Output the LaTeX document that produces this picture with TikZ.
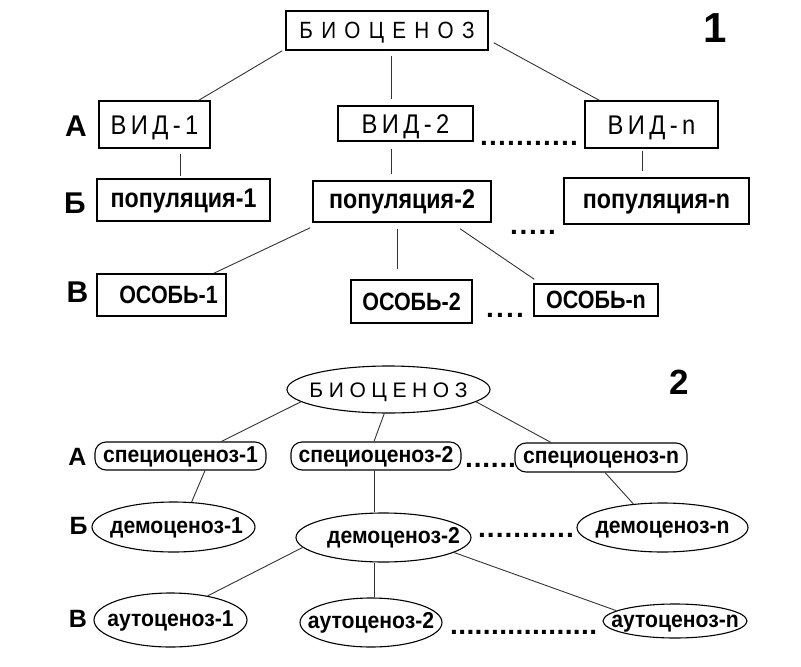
\documentclass[tikz,border=0pt]{standalone}
\usepackage{fontspec}
\setmainfont{Liberation Sans}
\newfontfamily\narrowfont{Liberation Sans}[FakeStretch=0.88]
\newfontfamily\nbold{Liberation Sans Bold}[FakeStretch=0.86]
\newfontfamily\mbold{Liberation Sans Bold}[FakeStretch=0.92]
\usetikzlibrary{shapes.geometric}
\newcommand\dotrow[2]{\foreach \i in {1,...,#1}{.\kern#2}}
\newcommand\wsp[2]{{\spaceskip=#1\relax #2}}
\tikzset{
  box1/.style={draw, line width=1.4pt, inner sep=0pt, font=\narrowfont\fontsize{27}{30}\selectfont},
  capt/.style={text height=19pt, text depth=0pt},
  lowt/.style={font=\nbold\fontsize{27}{30}\selectfont, text height=14pt, text depth=0pt},
  osob/.style={font=\nbold\fontsize{25}{28}\selectfont, text height=17.5pt, text depth=0pt},
  rb2/.style={draw, line width=1.1pt, rounded corners=11pt, inner sep=0pt, font=\mbold\fontsize{23}{26}\selectfont, text height=12pt, text depth=0pt},
  ell/.style={ellipse, draw, line width=1.1pt, inner sep=0pt, font=\mbold\fontsize{23}{26}\selectfont, text height=12pt, text depth=0pt},
  conn/.style={line width=0.9pt, draw=black!80},
  lab1/.style={inner sep=0pt, font=\bfseries\fontsize{30}{32}\selectfont},
  lab2/.style={inner sep=0pt, font=\bfseries\fontsize{25}{27}\selectfont},
  dotsty/.style={inner sep=0pt, anchor=base west, font=\bfseries\fontsize{28}{30}\selectfont},
}
\begin{document}
\begin{tikzpicture}[x=1pt,y=-1pt]
\useasboundingbox (0,0) rectangle (801,667);
% ---------- part 1 ----------
\node[box1,minimum width=202pt,minimum height=39pt,font=\narrowfont\fontsize{23.5}{26}\selectfont,text height=16.8pt,text depth=0pt] (top1) at (387,30.5) {\wsp{8.3pt}{Б И О Ц Е Н О З}};
\node[box1,capt,minimum width=111pt,minimum height=47pt] (v1) at (154.5,124.5) {\wsp{4.4pt}{В И Д - 1}};
\node[box1,capt,minimum width=135pt,minimum height=35pt] (v2) at (405.5,123.5) {\wsp{4.4pt}{В И Д - 2}};
\node[box1,capt,minimum width=133pt,minimum height=47pt] (vn) at (651.5,124.5) {\wsp{4.4pt}{В И Д - n}};
\node[box1,lowt,minimum width=173pt,minimum height=42pt] (p1) at (183.5,200) {популяция-1};
\node[box1,lowt,minimum width=178pt,minimum height=41pt] (p2) at (402,201.5) {популяция-2};
\node[box1,lowt,minimum width=185pt,minimum height=46pt] (pn) at (656.5,201) {популяция-n};
\node[box1,osob,minimum width=129pt,minimum height=42pt] (o1) at (161.5,295) {\hspace*{14pt}ОСОБЬ-1};
\node[box1,osob,minimum width=121pt,minimum height=43pt] (o2) at (411.5,301.5) {ОСОБЬ-2};
\node[box1,osob,minimum width=124pt,minimum height=32pt] (on) at (596,300) {ОСОБЬ-n};

\node[lab1] (A1) at (76,126) {А};
\node[lab1] (B1) at (75,203) {Б};
\node[lab1] (V1) at (77.5,292.5) {В};
\node[inner sep=0pt,font=\bfseries\fontsize{42}{44}\selectfont] (n1) at (715,28) {1};

\draw[conn] ([xshift=-3pt]top1.south west) -- ([xshift=-12pt]v1.north east);
\draw[conn,shorten <=5pt,shorten >=6pt] ([xshift=4pt]top1.south) coordinate (c1) -- (c1 |- v2.north);
\draw[conn] ([shift={(5pt,8pt)}]top1.south east) -- ([xshift=15pt]vn.north west);
\draw[conn,shorten <=5pt,shorten >=2pt] ([xshift=25.5pt]v1.south) coordinate (c2) -- (c2 |- p1.north);
\draw[conn,shorten <=7pt,shorten >=6pt] ([xshift=-14.5pt]v2.south) coordinate (c3) -- (c3 |- p2.north);
\draw[conn,shorten <=2pt,shorten >=6pt] ([xshift=-9.5pt]vn.south) coordinate (c4) -- (c4 |- pn.north);
\draw[conn] ([shift={(-2pt,-5pt)}]p2.south west) -- ([xshift=-13pt]o1.north east);
\draw[conn,shorten <=6pt,shorten >=10pt] ([xshift=-5pt]p2.south) coordinate (c5) -- (c5 |- o2.north);
\draw[conn] ([shift={(58pt,-6pt)}]p2.south) -- ([shift={(1pt,4pt)}]on.north west);

\node[dotsty] (dd1) at (480,145) {\dotrow{11}{1.2pt}};
\node[dotsty] (dd2) at (510,234) {\dotrow{5}{1.7pt}};
\node[dotsty] (dd3) at (486,317) {\dotrow{4}{2.2pt}};

% ---------- part 2 ----------
\node[ell,minimum width=203pt,minimum height=47pt,font=\fontsize{21}{24}\selectfont,text height=15pt] (top2) at (388.5,389.5) {\makebox[0pt]{\wsp{5.6pt}{Б И О Ц Е Н О З}}};
\node[rb2,minimum width=171pt,minimum height=28pt] (s1) at (180.5,456) {специоценоз-1};
\node[rb2,minimum width=170pt,minimum height=28pt] (s2) at (376,456) {специоценоз-2};
\node[rb2,minimum width=172pt,minimum height=29pt] (sn) at (601,457.5) {специоценоз-n};
\node[ell,minimum width=163pt,minimum height=50pt] (d1) at (173.5,527) {\makebox[0pt]{\hspace*{6pt}демоценоз-1}};
\node[ell,minimum width=175pt,minimum height=49pt] (d2) at (383.5,537.5) {\makebox[0pt]{\hspace*{20pt}демоценоз-2}};
\node[ell,minimum width=171pt,minimum height=49pt] (dn) at (662.5,527.5) {\makebox[0pt]{демоценоз-n}};
\node[ell,minimum width=153pt,minimum height=54pt] (a1) at (170.5,620) {\makebox[0pt]{аутоценоз-1}};
\node[ell,minimum width=142pt,minimum height=49pt] (a2) at (371,622.5) {\makebox[0pt]{аутоценоз-2}};
\node[ell,minimum width=144pt,minimum height=34pt] (an) at (675,621) {\makebox[0pt]{аутоценоз-n}};

\node[lab2] (A2) at (77.5,456.5) {А};
\node[lab2] (B2) at (78.5,526) {Б};
\node[lab2] (V2) at (78,619) {В};
\node[inner sep=0pt,font=\bfseries\fontsize{35}{37}\selectfont] (n2) at (679.5,382.5) {2};

\draw[conn] (top2.188) -- ([xshift=41pt]s1.north);
\draw[conn] (top2.260) -- ([xshift=-2pt]s2.north);
\draw[conn] (top2.352) -- ([xshift=-50pt]sn.north);
\draw[conn] ([xshift=24.5pt]s1.south) -- (d1.54);
\draw[conn] ([xshift=-2pt]s2.south) coordinate (c6) -- (c6 |- d2.north);
\draw[conn] ([xshift=4pt]sn.south) -- (dn.141);
\draw[conn] (d2.187) -- (a1.33);
\draw[conn] ([xshift=-9.5pt]d2.south) coordinate (c7) -- (c7 |- a2.north);
\draw[conn] (d2.348) -- (an.170);

\node[dotsty] (de1) at (465,467) {\dotrow{6}{0.8pt}};
\node[dotsty] (de2) at (478,537) {\dotrow{11}{1.0pt}};
\node[dotsty] (de3) at (450,634) {\dotrow{18}{0.4pt}};
\end{tikzpicture}
\end{document}
